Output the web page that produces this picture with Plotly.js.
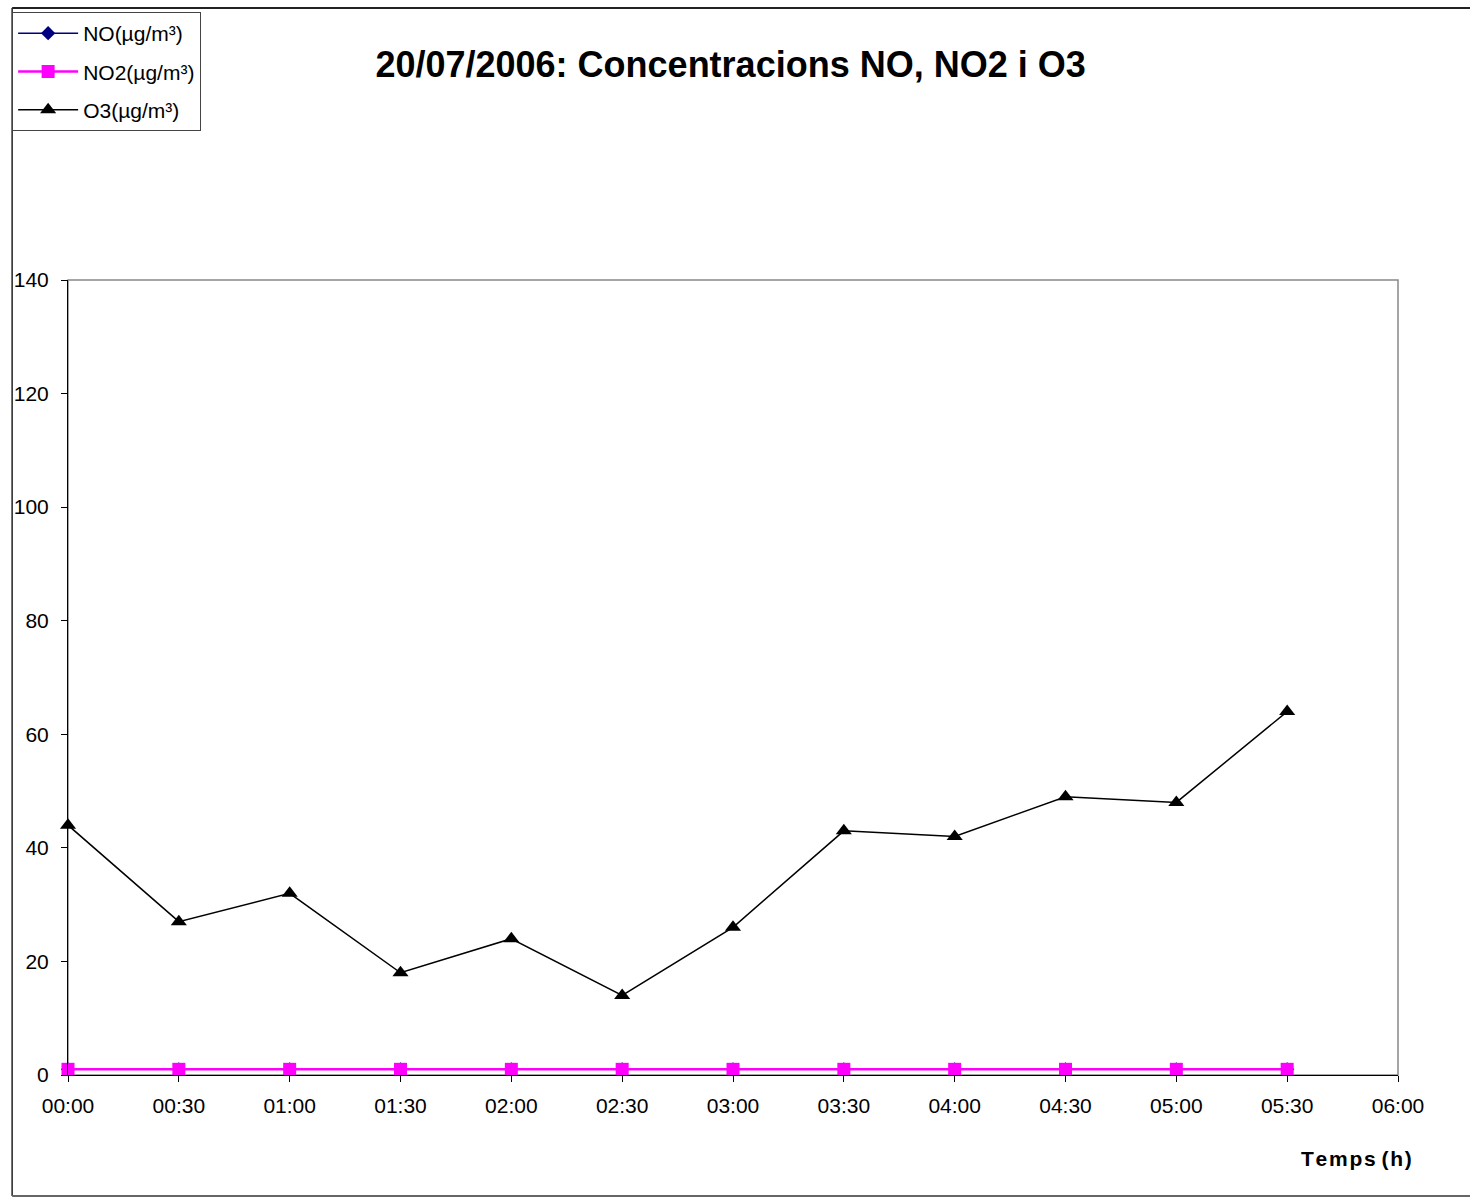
<!DOCTYPE html>
<html>
<head>
<meta charset="utf-8">
<script src="https://cdn.plot.ly/plotly-3.0.1.min.js"></script>
<style>html,body{margin:0;padding:0;background:#fff;}#chart{width:1470px;height:1198px;}</style>
</head>
<body>
<div id="chart"></div>
<script>
const times = ["00:00","00:30","01:00","01:30","02:00","02:30","03:00","03:30","04:00","04:30","05:00","05:30"];
const noValues  = [1,1,1,1,1,1,1,1,1,1,1,1];
const no2Values = [1,1,1,1,1,1,1,1,1,1,1,1];
const o3Values  = [44,27,32,18,24,14,26,43,42,49,48,64];
const tickLabels = ["00:00","00:30","01:00","01:30","02:00","02:30","03:00","03:30","04:00","04:30","05:00","05:30","06:00"];
const day = "2006-07-20 ";

const xs = times.map(t => day + t);
const tickVals = tickLabels.map(t => day + t);

const W = 1470, H = 1198, L = 65, R = 72, T = 280, B = 123;
const pw = W - L - R, ph = H - T - B;
const px = v => (v - L) / pw;
const py = v => (H - B - v) / ph;
const hs = "\u200A";
const spaced = s => s.split("").join(hs);

const traces = [
  {x: xs, y: noValues, name: "NO(µg/m³)", legendgroup: "a", mode: "lines+markers",
   line: {color: "#000080", width: 1.5}, marker: {symbol: "diamond", size: 11, color: "#000080"}, cliponaxis: false},
  {x: xs, y: no2Values, name: "NO2(µg/m³)", legendgroup: "b", mode: "lines+markers",
   line: {color: "#FF00FF", width: 2.5}, marker: {symbol: "square", size: 13, color: "#FF00FF"}, cliponaxis: false},
  {x: xs, y: o3Values, name: "O3(µg/m³)", legendgroup: "c", mode: "lines+markers",
   line: {color: "#000000", width: 1.5}, marker: {symbol: "triangle-up", size: 14, color: "#000000"}, cliponaxis: false}
];

const layout = {
  width: W, height: H,
  margin: {l: L, r: R, t: T, b: B, pad: 0},
  paper_bgcolor: "#fff", plot_bgcolor: "#fff",
  font: {family: "Liberation Sans, Arial, sans-serif", color: "#000", size: 21},
  title: {text: "<b>20/07/2006: Concentracions NO, NO2 i O3</b>", font: {size: 36, family: "Liberation Sans, Arial, sans-serif", color: "#000"},
          xref: "container", yref: "container", x: 0.497, xanchor: "center", y: 1 - 64 / H, yanchor: "middle"},
  xaxis: {type: "date", range: [day + "00:00", day + "06:00"], tickvals: tickVals, ticktext: tickLabels,
          showgrid: false, zeroline: false, showline: true, linecolor: "#000", linewidth: 1,
          ticks: "outside", ticklen: 6, tickcolor: "#000", tickfont: {size: 21}, ticklabelstandoff: 6},
  yaxis: {range: [0, 140], dtick: 20, tick0: 0, showgrid: false, zeroline: false, showline: true,
          linecolor: "#000", linewidth: 1, ticks: "outside", ticklen: 6, tickcolor: "#000", tickfont: {size: 21}, ticklabelstandoff: 8},
  showlegend: true,
  legend: {x: px(9), y: py(12), xanchor: "left", yanchor: "top", bgcolor: "#fff", traceorder: "grouped",
           bordercolor: "#444", borderwidth: 1, font: {size: 21}, tracegroupgap: 8, itemwidth: 60},
  annotations: [
    {text: "<b>" + spaced("Temps") + " " + spaced("(h)") + "</b>", xref: "paper", yref: "paper", x: px(1356), y: py(1158),
     xanchor: "center", yanchor: "middle", showarrow: false, font: {size: 21, color: "#000"}}
  ],
  shapes: [
    {type: "rect", xref: "paper", yref: "paper", x0: 0, x1: 1, y0: 0, y1: 1, line: {color: "#888", width: 1.5}, layer: "below"},
    {type: "line", xref: "paper", yref: "paper", x0: px(9), x1: px(1475), y0: py(8), y1: py(8), line: {color: "#222", width: 2}},
    {type: "line", xref: "paper", yref: "paper", x0: px(9), x1: px(9), y0: py(8), y1: py(1196), line: {color: "#222", width: 1.5}},
    {type: "line", xref: "paper", yref: "paper", x0: px(9), x1: px(1475), y0: py(1196), y1: py(1196), line: {color: "#666", width: 2}}
  ]
};

Plotly.newPlot("chart", traces, layout, {displayModeBar: false, staticPlot: true});
</script>
</body>
</html>
